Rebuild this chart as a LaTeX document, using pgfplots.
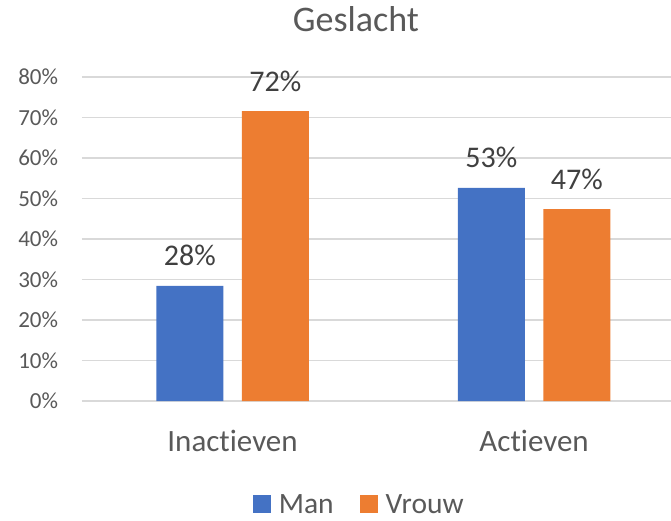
\documentclass[border=0pt]{standalone}
\usepackage{pgfplots}
\pgfplotsset{compat=1.18}
\usepackage{fontspec}
\setmainfont{Carlito}[Ligatures={NoCommon,NoRare,NoContextual}]
\definecolor{manblue}{HTML}{4472C4}
\definecolor{vrouworange}{HTML}{ED7D31}
\definecolor{gridgray}{HTML}{D9D9D9}
\definecolor{txtgray}{HTML}{595959}
\definecolor{lblgray}{HTML}{404040}
\begin{document}
\begin{tikzpicture}
\useasboundingbox (0,0) rectangle (671pt,-520pt);
\begin{axis}[
  at={(81.75pt,-401pt)}, anchor=south west,
  scale only axis, width=589.25pt, height=324pt,
  ybar=18.5pt, bar width=67pt,
  xmin=-0.5, xmax=1.454, ymin=0, ymax=80,
  xtick={0,1}, xticklabels={Inactieven,Actieven},
  ytick={0,10,...,80},
  yticklabel={\pgfmathprintnumber{\tick}\%},
  /pgf/number format/assume math mode=true,
  major tick length=0pt,
  tick style={draw=none},
  ymajorgrids, grid style={gridgray, line width=1.3pt},
  axis x line=bottom, axis y line=left,
  x axis line style={gridgray, line width=1.3pt, -},
  y axis line style={draw=none},
  yticklabel style={anchor=east, inner sep=0pt, xshift=-23.5pt, text=txtgray, font=\fontsize{23}{27}\selectfont},
  xticklabel style={anchor=base, inner sep=0pt, yshift=-50.7pt, text=txtgray, font=\fontsize{31}{36}\selectfont},
  nodes near coords={\pgfmathprintnumber[fixed,precision=0]{\pgfplotspointmeta}\%},
  nodes near coords style={anchor=base, inner sep=0pt, yshift=20pt, text=lblgray, font=\fontsize{30}{36}\selectfont},
  title={Geslacht},
  title style={at={(axis description cs:0.4654,1.1204)}, anchor=base, inner sep=0pt, text=txtgray, font=\fontsize{36}{42}\selectfont},
  legend columns=2,
  legend cell align=left,
  legend style={at={(axis description cs:0.290,-0.3519)}, anchor=south west, draw=none, fill=none, inner sep=0pt,
    nodes={inner sep=0pt, anchor=base west, text=txtgray, font=\fontsize{29.5}{34}\selectfont},
    /tikz/every odd column/.append style={column sep=8pt},
    /tikz/every even column/.append style={column sep=26pt}},
  legend image code/.code={\fill[#1] (0pt,0.7pt) rectangle (18pt,18.3pt);},
  clip=false,
]
\addplot[fill=manblue, draw=none] coordinates {(0,28.4) (1,52.6)};
\addplot[fill=vrouworange, draw=none] coordinates {(0,71.6) (1,47.4)};
\legend{Man,Vrouw}
\end{axis}
\end{tikzpicture}
\end{document}
